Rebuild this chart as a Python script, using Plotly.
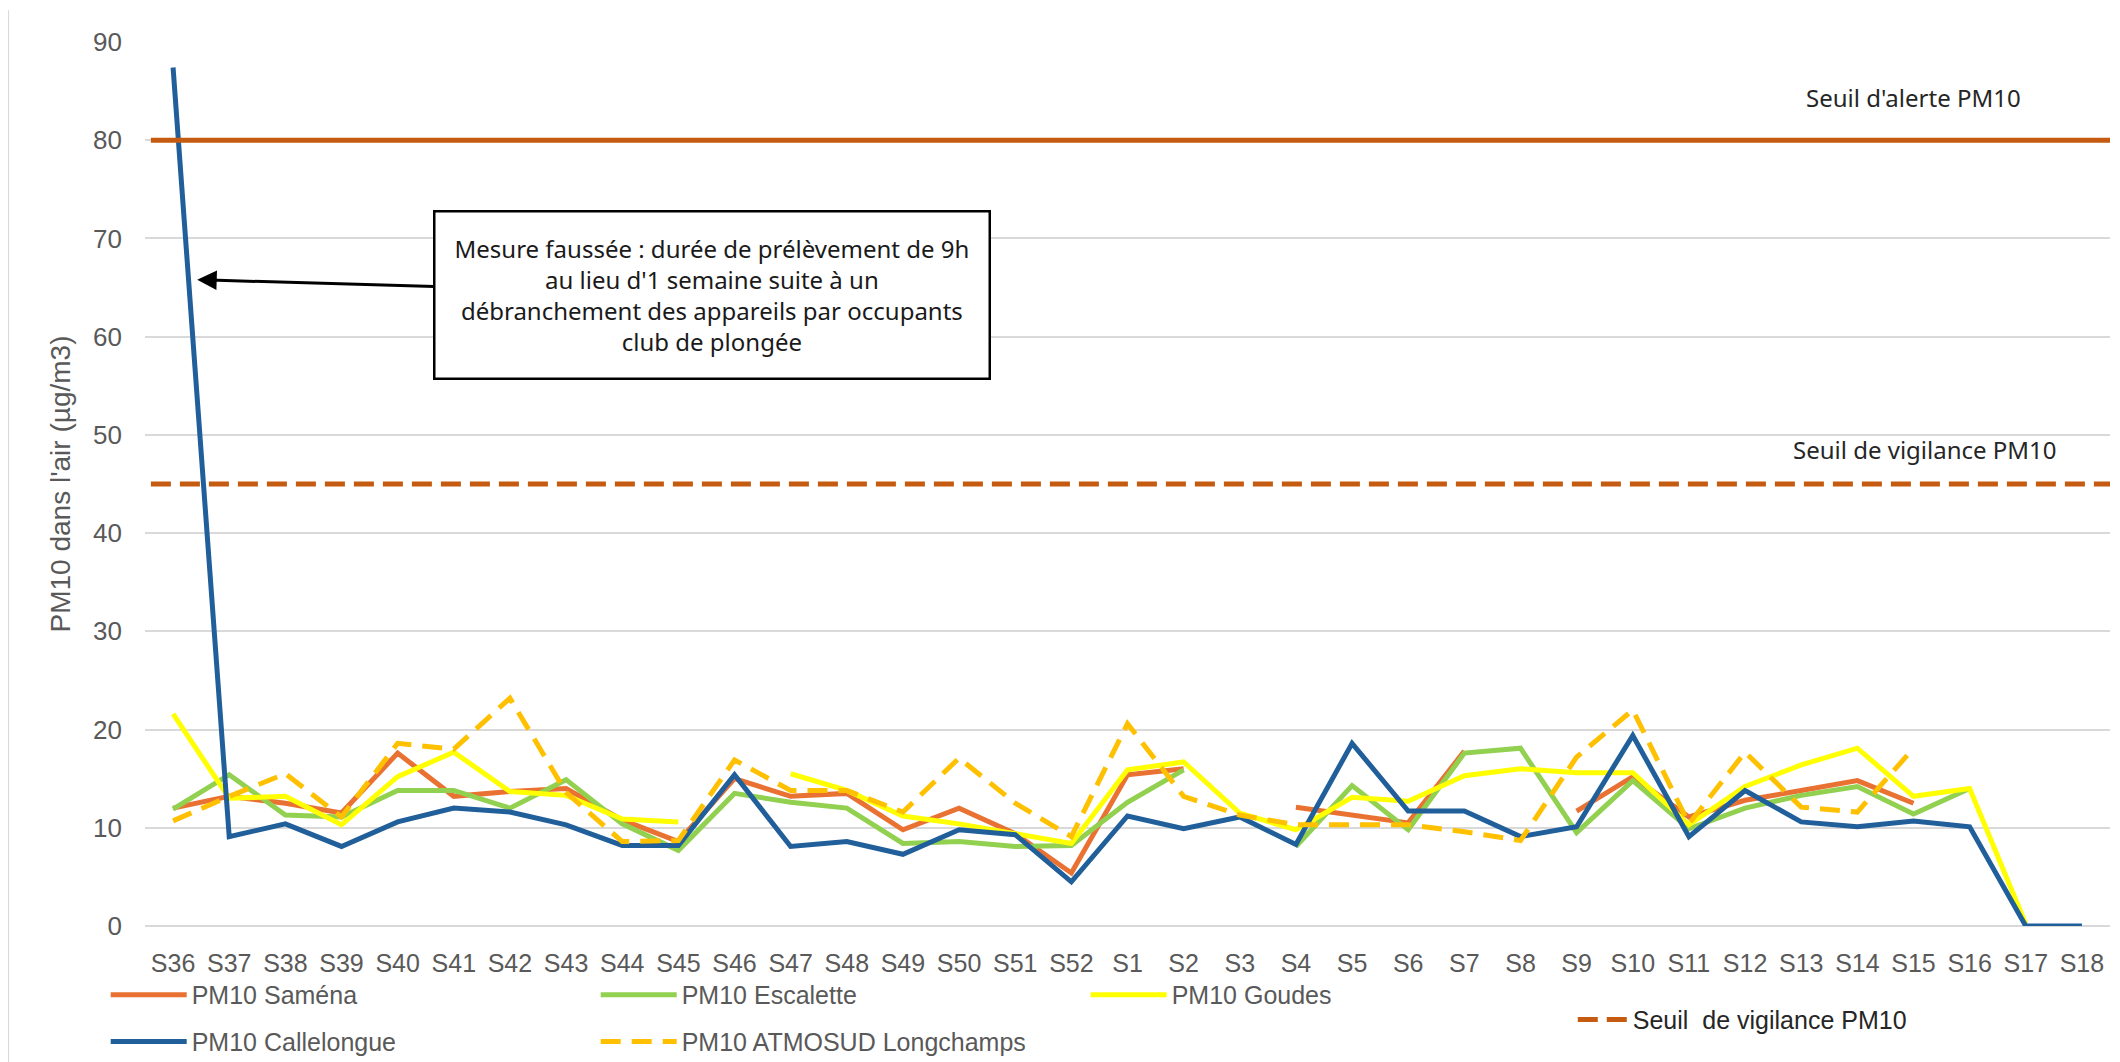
import plotly.graph_objects as go

semaines = ["S36", "S37", "S38", "S39", "S40", "S41", "S42", "S43", "S44", "S45", "S46", "S47",
            "S48", "S49", "S50", "S51", "S52", "S1", "S2", "S3", "S4", "S5", "S6", "S7", "S8",
            "S9", "S10", "S11", "S12", "S13", "S14", "S15", "S16", "S17", "S18"]

samena = [12.0, 13.2, 12.5, 11.5, 17.6, 13.2, 13.7, 14.0, 10.8, 8.6, 15.0, 13.2,
          13.5, 9.8, 12.0, 9.4, 5.4, 15.4, 16.0, None, 12.1, 11.3, 10.5, 17.8, None,
          11.7, 15.2, 11.1, 12.8, 13.8, 14.8, 12.5, None, None, None]
escalette = [11.9, 15.4, 11.3, 11.1, 13.8, 13.8, 12.0, 14.9, 10.4, 7.7, 13.5, 12.6,
             12.0, 8.4, 8.6, 8.1, 8.2, 12.6, 15.9, None, 8.1, 14.3, 9.8, 17.6, 18.1,
             9.5, 14.8, 9.9, 12.0, 13.3, 14.2, 11.4, 14.0, None, None]
goudes = [21.6, 13.0, 13.2, 10.3, 15.2, 17.7, 13.7, 13.3, 10.9, 10.6, None, 15.5,
          13.8, 11.2, 10.4, 9.4, 8.4, 15.9, 16.7, 11.5, 9.8, 13.1, 12.7, 15.3, 16.0,
          15.6, 15.6, 10.3, 14.2, 16.4, 18.1, 13.2, 14.0, 0.2, None]
callelongue = [87.4, 9.1, 10.4, 8.1, 10.6, 12.0, 11.6, 10.3, 8.2, 8.2, 15.4, 8.1,
               8.6, 7.3, 9.8, 9.3, 4.5, 11.2, 9.9, 11.1, 8.3, 18.6, 11.7, 11.7, 9.1,
               10.1, 19.4, 9.1, 13.8, 10.6, 10.1, 10.7, 10.1, 0.0, 0.0]
longchamps = [10.7, 13.2, 15.5, 11.1, 18.6, 18.0, 23.2, 13.6, 8.6, 8.7, 16.9, 13.8,
              13.8, 11.6, 17.1, 12.5, 9.1, 20.6, 13.2, 11.3, 10.3, 10.3, 10.3, 9.6, 8.7,
              17.2, 22.0, 10.4, 17.7, 12.1, 11.6, 18.1, None, None, None]

seuil_alerte = 80
seuil_vigilance = 45

NARROW = "Liberation Sans Narrow, Arial Narrow, Liberation Sans, sans-serif"
TEXT = "Noto Sans, Open Sans, sans-serif"
GRIS = "#595959"
SEUIL = "#C55A11"

series = [
    ("PM10 Saména", samena, "#E97132", "solid", "legend"),
    ("PM10 Escalette", escalette, "#92D050", "solid", "legend"),
    ("PM10 Goudes", goudes, "#FFFF00", "solid", "legend"),
    ("PM10 Callelongue", callelongue, "#215F9A", "solid", "legend2"),
    ("PM10 ATMOSUD Longchamps", longchamps, "#FFC000", "20px,11px", "legend2"),
]

fig = go.Figure()

# seuils : tracés sur un axe x secondaire (0 -> 1) pour couvrir toute la largeur
fig.add_trace(go.Scatter(
    x=[0.003, 1], y=[seuil_alerte, seuil_alerte], xaxis="x2", mode="lines",
    line=dict(color=SEUIL, width=5), showlegend=False, hoverinfo="skip",
))
fig.add_trace(go.Scatter(
    x=[0.003, 1], y=[seuil_vigilance, seuil_vigilance], xaxis="x2", mode="lines",
    name="Seuil  de vigilance PM10", legend="legend3",
    line=dict(color=SEUIL, width=5, dash="20px,9px"), hoverinfo="skip",
))

for name, values, color, dash, leg in series:
    fig.add_trace(go.Scatter(
        x=semaines, y=values, name=name, mode="lines", legend=leg,
        line=dict(color=color, width=5, dash=dash),
    ))

# bordure gauche
fig.add_shape(type="line", xref="paper", yref="paper", x0=-0.0697, x1=-0.0697, y0=1.036, y1=-0.154,
              line=dict(color="#D9D9D9", width=2))

fig.add_annotation(x=31.0, y=84.4, text="Seuil d'alerte PM10", showarrow=False,
                   font=dict(family=TEXT, size=24, color="#262626"))
fig.add_annotation(x=31.2, y=48.5, text="Seuil de vigilance PM10", showarrow=False,
                   font=dict(family=TEXT, size=24, color="#262626"))
fig.add_annotation(
    x=0.43, y=65.8, ax=515, ay=15,
    text="Mesure faussée : durée de prélèvement de 9h<br>au lieu d'1 semaine suite à un<br>"
         "débranchement des appareils par occupants<br>club de plongée",
    showarrow=True, arrowhead=2, arrowsize=1.3, arrowwidth=3, arrowcolor="black",
    bgcolor="white", bordercolor="black", borderwidth=2.5, borderpad=19,
    font=dict(family=TEXT, size=24, color="#1a1a1a"),
)

legend_common = dict(orientation="h", xanchor="left", yanchor="middle", entrywidth=399,
                     entrywidthmode="pixels", itemwidth=76,
                     font=dict(family=NARROW, size=25, color=GRIS), bgcolor="rgba(0,0,0,0)")

fig.update_layout(
    width=2104, height=1054,
    margin=dict(l=137, r=2, t=34, b=136, autoexpand=False),
    plot_bgcolor="white", paper_bgcolor="white",
    legend=dict(x=-0.020, y=-0.078, **legend_common),
    legend2=dict(x=-0.020, y=-0.131, **legend_common),
    legend3=dict(x=0.7266, y=-0.106, orientation="h", xanchor="left", yanchor="middle", itemwidth=50,
                 font=dict(family=NARROW, size=25, color="#262626"), bgcolor="rgba(0,0,0,0)"),
    xaxis=dict(
        type="category", range=[-0.5, len(semaines) - 0.5], showgrid=False, showline=False,
        ticks="", ticklabelstandoff=20, tickfont=dict(family=NARROW, size=25, color=GRIS),
    ),
    xaxis2=dict(overlaying="x", range=[0, 1], visible=False),
    yaxis=dict(
        range=[0, 90], dtick=10, showgrid=True, gridcolor="#D9D9D9", gridwidth=2,
        zeroline=True, zerolinecolor="#D9D9D9", zerolinewidth=2, showline=False,
        ticks="", ticklabelstandoff=22, tickfont=dict(family=NARROW, size=26, color=GRIS),
        title=dict(text="PM10 dans l'air (µg/m3)", standoff=14,
                   font=dict(family="Liberation Sans, Arial, sans-serif", size=28, color=GRIS)),
    ),
)

fig.write_html("out.html")
